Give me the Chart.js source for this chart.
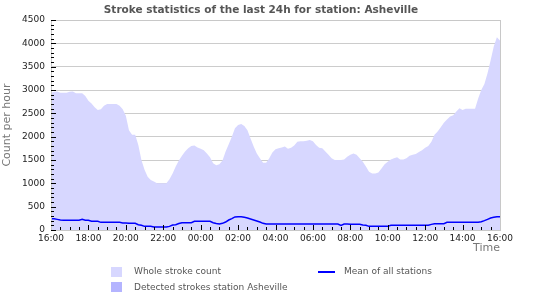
<!DOCTYPE html>
<html>
<head>
<meta charset="utf-8">
<script src="https://cdn.jsdelivr.net/npm/chart.js@4.4.1/dist/chart.umd.min.js"></script>
<style>
  body { margin: 0; background: #fff; }
  #wrap { position: relative; width: 550px; height: 300px; font-family: "DejaVu Sans", sans-serif; }
  #title { position: absolute; left: 0; top: 3px; width: 522px; text-align: center; font-weight: bold; font-size: 10.5px; color: #555; }
  .lg { position: absolute; font-size: 9px; line-height: 11px; color: #555; white-space: nowrap; }
  .box { position: absolute; width: 11px; height: 10px; }
</style>
</head>
<body>
<div id="wrap">
  <canvas id="myChart" width="550" height="300"></canvas>
  <div id="title">Stroke statistics of the last 24h for station: Asheville</div>
  <div class="box" id="box1" style="left:111px; top:267px;"></div>
  <div class="lg" style="left:134px; top:266px;">Whole stroke count</div>
  <div class="box" id="box2" style="left:111px; top:282px;"></div>
  <div class="lg" style="left:134px; top:282px;">Detected strokes station Asheville</div>
  <div class="box" id="line3" style="left:318px; top:271px; width:17px; height:2px;"></div>
  <div class="lg" style="left:344px; top:266px;">Mean of all stations</div>
</div>
<script>
// one value every 10 minutes, 16:00 -> 16:00 (145 points)
const wholeCount = [
  2940, 2960, 2970, 2940, 2940, 2940, // 16:00
  2960, 2970, 2930, 2930, 2930, 2870, // 17:00
  2770, 2710, 2630, 2570, 2590, 2660, // 18:00
  2700, 2700, 2700, 2700, 2660, 2590, // 19:00
  2450, 2140, 2040, 2040, 1820, 1500, // 20:00
  1290, 1140, 1070, 1040, 1000, 1000, // 21:00
  1000, 1000, 1090, 1210, 1360, 1490, // 22:00
  1590, 1680, 1750, 1800, 1810, 1770, // 23:00
  1740, 1710, 1640, 1560, 1430, 1390, // 00:00
  1410, 1490, 1680, 1840, 2000, 2180, // 01:00
  2250, 2270, 2230, 2140, 1960, 1790, // 02:00
  1640, 1540, 1440, 1440, 1540, 1660, // 03:00
  1730, 1750, 1770, 1790, 1740, 1760, // 04:00
  1810, 1890, 1900, 1900, 1910, 1930, // 05:00
  1900, 1820, 1760, 1750, 1680, 1610, // 06:00
  1540, 1500, 1500, 1500, 1510, 1570, // 07:00
  1610, 1640, 1610, 1540, 1460, 1360, // 08:00
  1250, 1210, 1210, 1230, 1320, 1410, // 09:00
  1460, 1510, 1540, 1560, 1510, 1510, // 10:00
  1540, 1590, 1610, 1630, 1670, 1710, // 11:00
  1760, 1800, 1890, 2040, 2110, 2200, // 12:00
  2300, 2370, 2430, 2460, 2540, 2610, // 13:00
  2570, 2600, 2600, 2600, 2600, 2820, // 14:00
  3000, 3130, 3360, 3640, 3930, 4130, // 15:00
  4060
];

const detectedStrokes = [
  0, 0, 0, 0, 0, 0,  0, 0, 0, 0, 0, 0,  0, 0, 0, 0, 0, 0,  0, 0, 0, 0, 0, 0,
  0, 0, 0, 0, 0, 0,  0, 0, 0, 0, 0, 0,  0, 0, 0, 0, 0, 0,  0, 0, 0, 0, 0, 0,
  0, 0, 0, 0, 0, 0,  0, 0, 0, 0, 0, 0,  0, 0, 0, 0, 0, 0,  0, 0, 0, 0, 0, 0,
  0, 0, 0, 0, 0, 0,  0, 0, 0, 0, 0, 0,  0, 0, 0, 0, 0, 0,  0, 0, 0, 0, 0, 0,
  0, 0, 0, 0, 0, 0,  0, 0, 0, 0, 0, 0,  0, 0, 0, 0, 0, 0,  0, 0, 0, 0, 0, 0,
  0, 0, 0, 0, 0, 0,  0, 0, 0, 0, 0, 0,  0, 0, 0, 0, 0, 0,  0, 0, 0, 0, 0, 0,
  0
];

const meanAllStations = [
  243, 243, 228, 214, 207, 207, // 16:00
  207, 207, 207, 207, 228, 207, // 17:00
  207, 186, 186, 186, 164, 164, // 18:00
  164, 164, 164, 164, 164, 150, // 19:00
  150, 143, 143, 143, 114, 100, // 20:00
  78, 78, 78, 64, 64, 64,       // 21:00
  64, 64, 78, 107, 114, 140,    // 22:00
  157, 157, 157, 157, 186, 186, // 23:00
  186, 186, 186, 186, 157, 140, // 00:00
  128, 143, 170, 214, 243, 280, // 01:00
  286, 286, 271, 257, 236, 214, // 02:00
  193, 171, 143, 128, 128, 128, // 03:00
  128, 128, 128, 128, 128, 128, // 04:00
  128, 128, 128, 128, 128, 128, // 05:00
  128, 128, 128, 128, 128, 128, // 06:00
  128, 128, 128, 100, 128, 128, // 07:00
  121, 121, 121, 121, 107, 100, // 08:00
  78, 78, 78, 78, 78, 78,       // 09:00
  78, 100, 100, 100, 100, 100,  // 10:00
  100, 100, 100, 100, 100, 100, // 11:00
  100, 100, 121, 135, 135, 135, // 12:00
  135, 164, 164, 164, 164, 164, // 13:00
  164, 164, 164, 164, 164, 164, // 14:00
  178, 200, 228, 257, 271, 286, // 15:00
  286
];

// x tick every 2 hours (= 12 steps of 10 min)
const hourLabels = ['16:00', '18:00', '20:00', '22:00', '00:00', '02:00', '04:00',
                    '06:00', '08:00', '10:00', '12:00', '14:00', '16:00'];

const colors = { whole: '#d7d7ff', detected: '#b4b4ff', mean: '#0000ff' };
document.getElementById('box1').style.background = colors.whole;
document.getElementById('box2').style.background = colors.detected;
document.getElementById('line3').style.background = colors.mean;

const steps = wholeCount.map((_, i) => i);

// frame + small ticks drawn inside the plot, like the original
const innerTicks = {
  id: 'innerTicks',
  afterDatasetsDraw(chart) {
    const { ctx, chartArea: a, scales: { x, y } } = chart;
    ctx.save();
    ctx.strokeStyle = '#c8c8c8';
    ctx.lineWidth = 1;
    ctx.strokeRect(a.left + 0.5, a.top + 0.5, a.right - a.left, a.bottom - a.top);
    ctx.strokeStyle = '#000';
    ctx.beginPath();
    for (let v = 0; v <= 4500; v += 100) {
      const py = Math.round(y.getPixelForValue(v)) + 0.5;
      const len = v % 500 === 0 ? 5 : 3;
      ctx.moveTo(a.left, py);
      ctx.lineTo(a.left + len, py);
    }
    for (let i = 3; i < 144; i += 3) {
      const px = Math.round(x.getPixelForValue(i)) + 0.5;
      const len = i % 12 === 0 ? 5 : 3;
      ctx.moveTo(px, a.bottom);
      ctx.lineTo(px, a.bottom - len);
    }
    ctx.stroke();
    ctx.restore();
  }
};

const ctx = document.getElementById('myChart').getContext('2d');
new Chart(ctx, {
  type: 'line',
  data: {
    labels: steps,
    datasets: [
      {
        label: 'Mean of all stations',
        data: meanAllStations,
        borderColor: colors.mean,
        borderWidth: 1.5,
        pointRadius: 0,
        fill: false,
        order: 0,
      },
      {
        label: 'Detected strokes station Asheville',
        data: detectedStrokes,
        backgroundColor: colors.detected,
        borderWidth: 0,
        pointRadius: 0,
        fill: 'origin',
        order: 1,
      },
      {
        label: 'Whole stroke count',
        data: wholeCount,
        backgroundColor: colors.whole,
        borderColor: colors.whole,
        borderWidth: 0,
        pointRadius: 0,
        fill: 'origin',
        order: 2,
      },
    ],
  },
  options: {
    responsive: false,
    animation: false,
    layout: { padding: { left: 0, right: 50, top: 20, bottom: 45 } },
    plugins: {
      legend: { display: false },
      tooltip: { enabled: false },
    },
    scales: {
      x: {
        type: 'linear',
        min: 0,
        max: 144,
        grid: { display: false, drawTicks: false },
        border: { display: false },
        ticks: {
          stepSize: 12,
          autoSkip: false,
          maxRotation: 0,
          padding: 3,
          color: '#222',
          font: { family: 'DejaVu Sans', size: 9 },
          callback: (v) => hourLabels[v / 12],
        },
        title: {
          display: true,
          text: 'Time',
          align: 'end',
          color: '#777',
          padding: 0,
          font: { family: 'DejaVu Sans', size: 11 },
        },
        afterFit: (s) => { s.height = 25; },
      },
      y: {
        min: 0,
        max: 4500,
        grid: { color: '#cccccc', drawTicks: false },
        border: { display: false },
        ticks: {
          stepSize: 500,
          padding: 6,
          color: '#222',
          font: { family: 'DejaVu Sans', size: 9 },
          callback: (v) => String(v),
        },
        title: {
          display: true,
          text: 'Count per hour',
          color: '#777',
          padding: 1,
          font: { family: 'DejaVu Sans', size: 11 },
        },
        afterFit: (s) => { s.width = 51; },
      },
    },
  },
  plugins: [innerTicks],
});
</script>
</body>
</html>
